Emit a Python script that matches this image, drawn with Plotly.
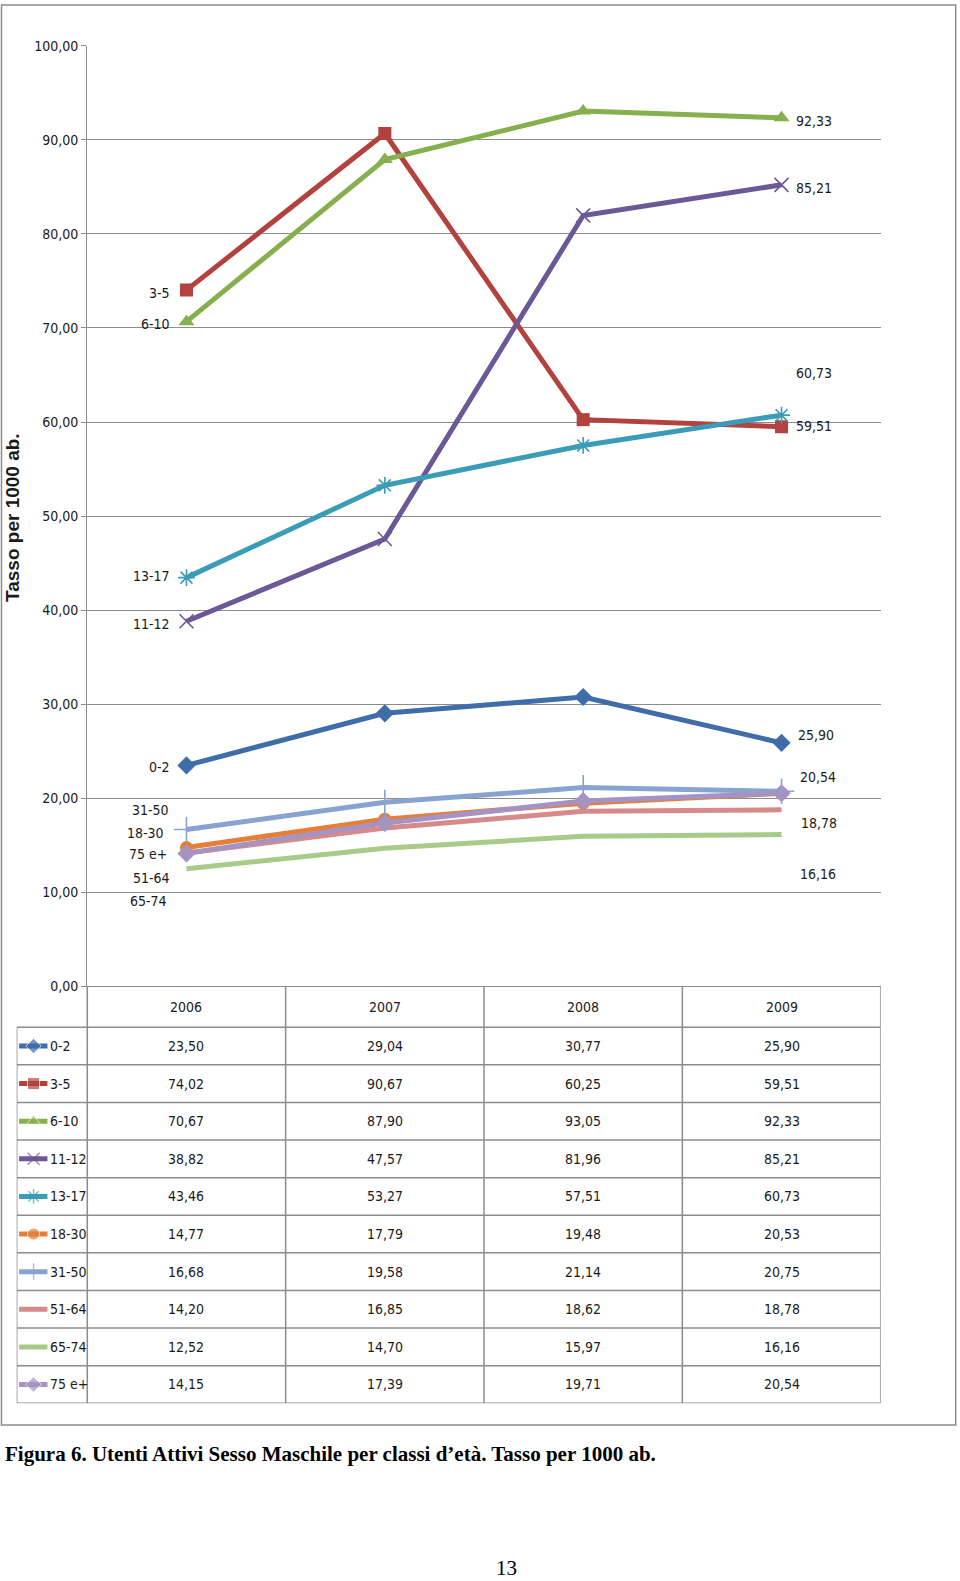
import plotly.graph_objects as go

# ---------------- data ----------------
years = ["2006", "2007", "2008", "2009"]
series_names = ["0-2", "3-5", "6-10", "11-12", "13-17", "18-30", "31-50", "51-64", "65-74", "75 e+"]
v_0_2 = [23.50, 29.04, 30.77, 25.90]
v_3_5 = [74.02, 90.67, 60.25, 59.51]
v_6_10 = [70.67, 87.90, 93.05, 92.33]
v_11_12 = [38.82, 47.57, 81.96, 85.21]
v_13_17 = [43.46, 53.27, 57.51, 60.73]
v_18_30 = [14.77, 17.79, 19.48, 20.53]
v_31_50 = [16.68, 19.58, 21.14, 20.75]
v_51_64 = [14.20, 16.85, 18.62, 18.78]
v_65_74 = [12.52, 14.70, 15.97, 16.16]
v_75_plus = [14.15, 17.39, 19.71, 20.54]
values = [v_0_2, v_3_5, v_6_10, v_11_12, v_13_17, v_18_30, v_31_50, v_51_64, v_65_74, v_75_plus]
y_ticks = [0, 10, 20, 30, 40, 50, 60, 70, 80, 90, 100]

# ---------------- styles ----------------
colors = ["#3F6DAA", "#B3413E", "#86B04E", "#6C5797", "#3B9CB7",
          "#E57F38", "#88A3D0", "#D68A89", "#A9CB8A", "#A493C3"]
symbols = ["diamond", "square", "triangle-up", "x-thin-open", "asterisk-open",
           "circle", "cross-thin-open", None, None, "diamond"]
msizes = [14, 13, 14, 14, 14, 13, 18, 0, 0, 14]
left_shift = {"0-2": (-14, -2), "3-5": (-14, -3), "6-10": (-14, -2), "11-12": (-14, -3),
              "13-17": (-14, 2), "18-30": (-20, 15), "31-50": (-15, 20), "51-64": (-14, -25),
              "65-74": (-17, -32), "75 e+": (-17, -1)}
right_shift = {"6-10": (12, -3), "11-12": (12, -3), "13-17": (12, 42), "3-5": (12, 1),
               "0-2": (14, 8), "75 e+": (16, 16), "51-64": (17, -13), "65-74": (16, -40)}

W, H = 960, 1581
X0, X1 = 87.3, 880.7
Y_TOP, Y_ZERO = 45.7, 986.5
LEG_L = 16.7
ROW_BOTTOM = 1403.3
HEADER_H = 40.7
ROW_H = (ROW_BOTTOM - Y_ZERO - HEADER_H) / 10
COL_W = (X1 - X0) / 4
GRID = "#8C8C8C"
FONT = "DejaVu Sans Condensed, Liberation Sans Narrow, sans-serif"
FS = 14
TXT = "#1a1a1a"


def fx(px):
    return px / W


def fy(py):
    return 1 - py / H


def fmt(v):
    return f"{v:.2f}".replace(".", ",")


fig = go.Figure()

for name, vals, col, sym, ms in zip(series_names, values, colors, symbols, msizes):
    marker = dict(size=ms, color=col)
    if sym:
        marker["symbol"] = sym
        if sym.endswith("-open"):
            marker["line"] = dict(color=col, width=1.6)
    fig.add_trace(go.Scatter(
        x=years, y=vals, name=name, mode="lines+markers" if sym else "lines",
        line=dict(color=col, width=5), marker=marker,
        xaxis="x", yaxis="y", showlegend=False, hoverinfo="skip"))

annotations = []
first_i, last_i = 0, len(years) - 1
for name, vals in zip(series_names, values):
    dx, dy = left_shift[name]
    annotations.append(dict(x=first_i, y=vals[0], xref="x", yref="y", text=name,
                            showarrow=False, xanchor="right", yanchor="middle",
                            xshift=dx, yshift=dy, font=dict(family=FONT, size=FS, color=TXT)))
    if name in right_shift:
        dx, dy = right_shift[name]
        annotations.append(dict(x=last_i, y=vals[-1], xref="x", yref="y", text=fmt(vals[-1]),
                                showarrow=False, xanchor="left", yanchor="middle",
                                xshift=dx, yshift=dy, font=dict(family=FONT, size=FS, color=TXT)))

# ---------------- table (axis 2) ----------------
leg_units = (X0 - LEG_L) / COL_W
hdr_units = HEADER_H / ROW_H
x2_left = -0.5 - leg_units
y2_top = -0.5 - hdr_units

for i, (name, col, sym) in enumerate(zip(series_names, colors, symbols)):
    xs = [x2_left + 0.012, x2_left + 0.085, x2_left + 0.155]
    marker = dict(size=[0, 12 if sym else 0, 0], color=col)
    if sym:
        marker["symbol"] = sym
        if sym.endswith("-open"):
            marker["line"] = dict(color=col, width=1.4)
    fig.add_trace(go.Scatter(
        x=xs, y=[i, i, i], mode="lines+markers", line=dict(color=col, width=5),
        marker=marker, xaxis="x2", yaxis="y2", showlegend=False, hoverinfo="skip"))
    annotations.append(dict(x=x2_left + 0.16, y=i, xref="x2", yref="y2", text=name,
                            showarrow=False, xanchor="left", yanchor="middle",
                            font=dict(family=FONT, size=FS, color=TXT)))
    for c, v in enumerate(values[i]):
        annotations.append(dict(x=c, y=i, xref="x2", yref="y2", text=fmt(v),
                                showarrow=False, xanchor="center", yanchor="middle",
                                font=dict(family=FONT, size=FS, color=TXT)))

for c, yr in enumerate(years):
    annotations.append(dict(x=c, y=-0.5 - hdr_units / 2, xref="x2", yref="y2", text=yr,
                            showarrow=False, xanchor="center", yanchor="middle",
                            font=dict(family=FONT, size=FS, color=TXT)))

shapes = []
tl = dict(color=GRID, width=1.5)
for r in range(11):
    shapes.append(dict(type="line", xref="x2", yref="y2", x0=x2_left, x1=3.5,
                       y0=r - 0.5, y1=r - 0.5, line=tl))
for c in range(5):
    shapes.append(dict(type="line", xref="x2", yref="y2", x0=c - 0.5, x1=c - 0.5,
                       y0=y2_top, y1=9.5, line=tl))
shapes.append(dict(type="line", xref="x2", yref="y2", x0=x2_left, x1=x2_left,
                   y0=-0.5, y1=9.5, line=tl))
shapes.append(dict(type="rect", xref="paper", yref="paper", x0=fx(1.5), x1=fx(955.7),
                   y0=fy(1425), y1=fy(5), line=dict(color=GRID, width=1.5)))

annotations.append(dict(x=fx(12), y=fy(518), xref="paper", yref="paper",
                        text="<b>Tasso per 1000 ab.</b>", textangle=-90, showarrow=False,
                        xanchor="center", yanchor="middle",
                        font=dict(family="Liberation Sans, Arial, sans-serif", size=19, color=TXT)))
annotations.append(dict(x=fx(3), y=fy(1454), xref="paper", yref="paper",
                        text="<b>Figura 6. Utenti Attivi Sesso Maschile per classi d’età. Tasso per 1000 ab.</b>",
                        showarrow=False, xanchor="left", yanchor="middle",
                        font=dict(family="Liberation Serif, Times New Roman, serif", size=21, color="#000000")))
annotations.append(dict(x=fx(507), y=fy(1568), xref="paper", yref="paper", text="13",
                        showarrow=False, xanchor="center", yanchor="middle",
                        font=dict(family="Liberation Serif, Times New Roman, serif", size=21, color="#000000")))

fig.update_layout(
    width=W, height=H, margin=dict(l=0, r=0, t=0, b=0, autoexpand=False),
    paper_bgcolor="white", plot_bgcolor="white",
    separators=",.",
    showlegend=False,
    xaxis=dict(domain=[fx(X0), fx(X1)], type="category", categoryorder="array",
               categoryarray=years, range=[-0.5, 3.5], showticklabels=False,
               showgrid=False, zeroline=False, showline=False, ticks=""),
    yaxis=dict(domain=[fy(Y_ZERO), fy(Y_TOP)], range=[0, 100], tickvals=y_ticks,
               tickformat=".2f", showgrid=True, gridcolor=GRID, gridwidth=1.3,
               zeroline=True, zerolinecolor=GRID, zerolinewidth=1.3,
               showline=True, linecolor=GRID, linewidth=1.3,
               ticks="outside", ticklen=5, tickcolor=GRID, tickwidth=1.3,
               tickfont=dict(family=FONT, size=FS, color=TXT)),
    xaxis2=dict(domain=[fx(LEG_L), fx(X1)], range=[x2_left, 3.5], visible=False,
                anchor="y2"),
    yaxis2=dict(domain=[fy(ROW_BOTTOM), fy(Y_ZERO)], range=[9.5, y2_top], visible=False,
                anchor="x2"),
    annotations=annotations,
    shapes=shapes,
)

fig.write_html("out.html", config={"responsive": False, "displayModeBar": False},
               post_script="document.body.style.margin='0';document.body.style.padding='0';")
